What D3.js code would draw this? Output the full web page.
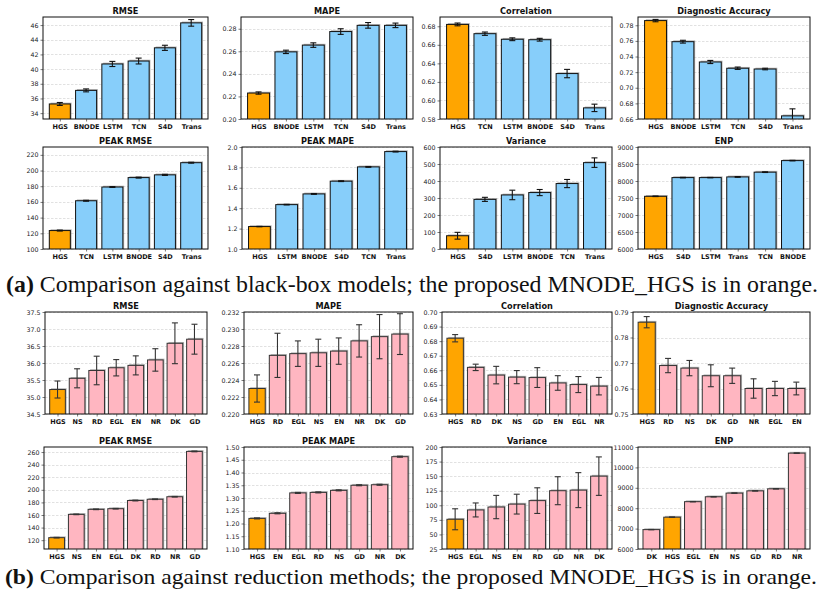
<!DOCTYPE html>
<html>
<head>
<meta charset="utf-8">
<script src="https://cdn.jsdelivr.net/npm/d3@7"></script>
<style>
  body { margin: 0; background: #fff; }
  svg { display: block; }
</style>
</head>
<body>
<svg width="820" height="590"></svg>
<script>
// ---- (a) black-box models ----
var catsA_RMSE = ["HGS", "BNODE", "LSTM", "TCN", "S4D", "Trans"];
var valsA_RMSE = [35.25, 37.1, 40.7, 41.1, 42.9, 46.3];
var errsA_RMSE = [0.2, 0.2, 0.35, 0.4, 0.35, 0.45];
var ticksA_RMSE = [34, 36, 38, 40, 42, 44, 46];

var catsA_MAPE = ["HGS", "BNODE", "LSTM", "TCN", "S4D", "Trans"];
var valsA_MAPE = [0.223, 0.2595, 0.2655, 0.2775, 0.283, 0.283];
var errsA_MAPE = [0.001, 0.0015, 0.002, 0.0025, 0.0025, 0.002];
var ticksA_MAPE = [0.20, 0.22, 0.24, 0.26, 0.28];

var catsA_Corr = ["HGS", "TCN", "LSTM", "BNODE", "S4D", "Trans"];
var valsA_Corr = [0.682, 0.672, 0.666, 0.6655, 0.629, 0.592];
var errsA_Corr = [0.0015, 0.0018, 0.0015, 0.0015, 0.0045, 0.004];
var ticksA_Corr = [0.58, 0.60, 0.62, 0.64, 0.66, 0.68];

var catsA_Acc = ["HGS", "BNODE", "LSTM", "TCN", "S4D", "Trans"];
var valsA_Acc = [0.786, 0.759, 0.733, 0.725, 0.724, 0.664];
var errsA_Acc = [0.0015, 0.0018, 0.002, 0.0015, 0.001, 0.009];
var ticksA_Acc = [0.66, 0.68, 0.70, 0.72, 0.74, 0.76, 0.78];

var catsA_PRMSE = ["HGS", "TCN", "LSTM", "BNODE", "S4D", "Trans"];
var valsA_PRMSE = [123.5, 161.5, 179, 191, 194.5, 210];
var errsA_PRMSE = [0.6, 0.6, 0.5, 0.6, 0.7, 0.6];
var ticksA_PRMSE = [100, 120, 140, 160, 180, 200, 220];

var catsA_PMAPE = ["HGS", "LSTM", "BNODE", "S4D", "TCN", "Trans"];
var valsA_PMAPE = [1.22, 1.435, 1.54, 1.665, 1.805, 1.955];
var errsA_PMAPE = [0.002, 0.003, 0.004, 0.004, 0.004, 0.004];
var ticksA_PMAPE = [1.0, 1.2, 1.4, 1.6, 1.8, 2.0];

var catsA_Var = ["HGS", "S4D", "LSTM", "BNODE", "TCN", "Trans"];
var valsA_Var = [78, 292, 318, 332, 385, 508];
var errsA_Var = [20, 12, 28, 18, 24, 28];
var ticksA_Var = [0, 100, 200, 300, 400, 500, 600];

var catsA_ENP = ["HGS", "S4D", "LSTM", "Trans", "TCN", "BNODE"];
var valsA_ENP = [7550, 8100, 8100, 8120, 8260, 8600];
var errsA_ENP = [8, 8, 6, 10, 10, 8];
var ticksA_ENP = [6000, 6500, 7000, 7500, 8000, 8500, 9000];

// ---- (b) reduction methods ----
var catsB_RMSE = ["HGS", "NS", "RD", "EGL", "EN", "NR", "DK", "GD"];
var valsB_RMSE = [35.22, 35.55, 35.78, 35.86, 35.93, 36.09, 36.58, 36.70];
var errsB_RMSE = [0.25, 0.28, 0.42, 0.24, 0.28, 0.33, 0.6, 0.44];
var ticksB_RMSE = [34.5, 35.0, 35.5, 36.0, 36.5, 37.0, 37.5];

var catsB_MAPE = ["HGS", "RD", "EGL", "NS", "EN", "NR", "DK", "GD"];
var valsB_MAPE = [0.2230, 0.2269, 0.2271, 0.2272, 0.2274, 0.2286, 0.2291, 0.2294];
var errsB_MAPE = [0.0016, 0.0026, 0.0015, 0.0016, 0.00155, 0.0019, 0.0026, 0.0024];
var ticksB_MAPE = [0.220, 0.222, 0.224, 0.226, 0.228, 0.230, 0.232];

var catsB_Corr = ["HGS", "RD", "DK", "NS", "GD", "EN", "EGL", "NR"];
var valsB_Corr = [0.682, 0.662, 0.6567, 0.6553, 0.655, 0.6513, 0.6502, 0.6491];
var errsB_Corr = [0.0025, 0.0022, 0.006, 0.0045, 0.0068, 0.005, 0.0055, 0.006];
var ticksB_Corr = [0.63, 0.64, 0.65, 0.66, 0.67, 0.68, 0.69, 0.70];

var catsB_Acc = ["HGS", "RD", "NS", "DK", "GD", "NR", "EGL", "EN"];
var valsB_Acc = [0.786, 0.769, 0.768, 0.765, 0.765, 0.760, 0.760, 0.760];
var errsB_Acc = [0.0022, 0.0028, 0.003, 0.0043, 0.003, 0.0038, 0.0028, 0.0025];
var ticksB_Acc = [0.75, 0.76, 0.77, 0.78, 0.79];

var catsB_PRMSE = ["HGS", "NS", "EN", "EGL", "DK", "RD", "NR", "GD"];
var valsB_PRMSE = [124, 161, 169, 170, 183, 185, 189, 261];
var errsB_PRMSE = [0.5, 0.5, 0.5, 0.5, 0.6, 0.5, 0.5, 0.6];
var ticksB_PRMSE = [120, 140, 160, 180, 200, 220, 240, 260];

var catsB_PMAPE = ["HGS", "EN", "EGL", "RD", "NS", "GD", "NR", "DK"];
var valsB_PMAPE = [1.22, 1.24, 1.32, 1.322, 1.33, 1.35, 1.352, 1.462];
var errsB_PMAPE = [0.002, 0.002, 0.002, 0.002, 0.002, 0.002, 0.002, 0.002];
var ticksB_PMAPE = [1.10, 1.15, 1.20, 1.25, 1.30, 1.35, 1.40, 1.45, 1.50];

var catsB_Var = ["HGS", "EGL", "NS", "EN", "RD", "GD", "NR", "DK"];
var valsB_Var = [76, 92, 97, 102, 108, 125, 126, 150];
var errsB_Var = [18, 12, 20, 17, 22, 24, 30, 33];
var ticksB_Var = [25, 50, 75, 100, 125, 150, 175, 200];

var catsB_ENP = ["DK", "HGS", "EGL", "EN", "NS", "GD", "RD", "NR"];
var valsB_ENP = [6950, 7560, 8320, 8560, 8740, 8850, 8950, 10700];
var errsB_ENP = [8, 8, 8, 8, 8, 8, 8, 10];
var ticksB_ENP = [6000, 7000, 8000, 9000, 10000, 11000];

var captionA = "Comparison against black-box models; the proposed MNODE_HGS is in orange.";
var captionB = "Comparison against reduction methods; the proposed MNODE_HGS is in orange.";

var svg = d3.select("svg");

// colours per section
var HL = "#FFA500", BLUE = "#87CEFA", PINK = "#FFB6C1";

// panel geometry: rows and columns
var rowsY = [[17, 119], [147, 249], [312, 414], [447, 549]];
var colsX = [
    [[43, 208], [241, 413], [440, 612], [638, 810]],
    [[43, 208], [242, 413], [440, 612], [638, 810]],
    [[45, 207], [244, 413], [442, 612], [633, 810]],
    [[44, 207], [244, 413], [442, 612], [638, 810]]
];

var panels = [
    {title: "RMSE", cats: catsA_RMSE, vals: valsA_RMSE, errs: errsA_RMSE, ticks: ticksA_RMSE, dom: [33.2, 47.1], fmt: "d", color: BLUE},
    {title: "MAPE", cats: catsA_MAPE, vals: valsA_MAPE, errs: errsA_MAPE, ticks: ticksA_MAPE, dom: [0.20, 0.2904], fmt: ".2f", color: BLUE},
    {title: "Correlation", cats: catsA_Corr, vals: valsA_Corr, errs: errsA_Corr, ticks: ticksA_Corr, dom: [0.58, 0.690], fmt: ".2f", color: BLUE},
    {title: "Diagnostic Accuracy", cats: catsA_Acc, vals: valsA_Acc, errs: errsA_Acc, ticks: ticksA_Acc, dom: [0.66, 0.7906], fmt: ".2f", color: BLUE},
    {title: "PEAK RMSE", cats: catsA_PRMSE, vals: valsA_PRMSE, errs: errsA_PRMSE, ticks: ticksA_PRMSE, dom: [100, 230], fmt: "d", color: BLUE},
    {title: "PEAK MAPE", cats: catsA_PMAPE, vals: valsA_PMAPE, errs: errsA_PMAPE, ticks: ticksA_PMAPE, dom: [1.0, 2.0], fmt: ".1f", color: BLUE},
    {title: "Variance", cats: catsA_Var, vals: valsA_Var, errs: errsA_Var, ticks: ticksA_Var, dom: [0, 600], fmt: "d", color: BLUE},
    {title: "ENP", cats: catsA_ENP, vals: valsA_ENP, errs: errsA_ENP, ticks: ticksA_ENP, dom: [6000, 9000], fmt: "d", color: BLUE},
    {title: "RMSE", cats: catsB_RMSE, vals: valsB_RMSE, errs: errsB_RMSE, ticks: ticksB_RMSE, dom: [34.5, 37.5], fmt: ".1f", color: PINK},
    {title: "MAPE", cats: catsB_MAPE, vals: valsB_MAPE, errs: errsB_MAPE, ticks: ticksB_MAPE, dom: [0.220, 0.232], fmt: ".3f", color: PINK},
    {title: "Correlation", cats: catsB_Corr, vals: valsB_Corr, errs: errsB_Corr, ticks: ticksB_Corr, dom: [0.63, 0.70], fmt: ".2f", color: PINK},
    {title: "Diagnostic Accuracy", cats: catsB_Acc, vals: valsB_Acc, errs: errsB_Acc, ticks: ticksB_Acc, dom: [0.75, 0.79], fmt: ".2f", color: PINK},
    {title: "PEAK RMSE", cats: catsB_PRMSE, vals: valsB_PRMSE, errs: errsB_PRMSE, ticks: ticksB_PRMSE, dom: [106, 268], fmt: "d", color: PINK},
    {title: "PEAK MAPE", cats: catsB_PMAPE, vals: valsB_PMAPE, errs: errsB_PMAPE, ticks: ticksB_PMAPE, dom: [1.10, 1.50], fmt: ".2f", color: PINK},
    {title: "Variance", cats: catsB_Var, vals: valsB_Var, errs: errsB_Var, ticks: ticksB_Var, dom: [25, 200], fmt: "d", color: PINK},
    {title: "ENP", cats: catsB_ENP, vals: valsB_ENP, errs: errsB_ENP, ticks: ticksB_ENP, dom: [6000, 11000], fmt: "d", color: PINK}
];

var font = "DejaVu Sans, sans-serif";

panels.forEach(function(p, i) {
    var row = Math.floor(i / 4), col = i % 4;
    var x0 = colsX[row][col][0], x1 = colsX[row][col][1];
    var y0 = rowsY[row][0], y1 = rowsY[row][1];
    var n = p.cats.length;
    var bSec = row >= 2;
    var ink = bSec ? "#333" : "#111";

    var x = d3.scaleLinear().domain([-0.64, n - 1 + 0.64]).range([x0, x1]);
    var y = d3.scaleLinear().domain(p.dom).range([y1, y0]);
    var bw = x(0.8) - x(0);

    var clipId = "clip" + i;
    svg.append("clipPath").attr("id", clipId)
        .append("rect").attr("x", x0).attr("y", y0).attr("width", x1 - x0).attr("height", y1 - y0);

    var g = svg.append("g");

    // dashed grid
    g.selectAll(".grid").data(p.ticks).enter().append("line")
        .attr("x1", x0).attr("x2", x1)
        .attr("y1", function(d) { return Math.round(y(d)) + 0.5; })
        .attr("y2", function(d) { return Math.round(y(d)) + 0.5; })
        .attr("stroke", "#d4d4d4").attr("stroke-width", 0.7)
        .attr("stroke-dasharray", "2.5,1.5");

    var plot = g.append("g").attr("clip-path", "url(#" + clipId + ")");

    // soft shadow behind bars
    plot.selectAll(".shadow").data(p.vals).enter().append("rect")
        .attr("x", function(d, j) { return x(j) - bw / 2 + 1.3; })
        .attr("y", function(d) { return y(d) - 1.3; })
        .attr("width", bw)
        .attr("height", function(d) { return y1 - y(d) + 2; })
        .attr("fill", "#777").attr("opacity", 0.55);

    plot.selectAll(".bar").data(p.vals).enter().append("rect")
        .attr("x", function(d, j) { return x(j) - bw / 2; })
        .attr("y", function(d) { return y(d); })
        .attr("width", bw)
        .attr("height", function(d) { return y1 - y(d) + 2; })
        .attr("fill", function(d, j) { return p.cats[j] === "HGS" ? HL : p.color; })
        .attr("stroke", ink).attr("stroke-width", 1);

    // error bars
    var eb = plot.selectAll(".err").data(p.vals).enter().append("g");
    eb.append("line")
        .attr("x1", function(d, j) { return x(j); })
        .attr("x2", function(d, j) { return x(j); })
        .attr("y1", function(d, j) { return y(d - p.errs[j]); })
        .attr("y2", function(d, j) { return y(d + p.errs[j]); })
        .attr("stroke", ink).attr("stroke-width", 1.1);
    [-1, 1].forEach(function(s) {
        eb.append("line")
            .attr("x1", function(d, j) { return x(j) - 3; })
            .attr("x2", function(d, j) { return x(j) + 3; })
            .attr("y1", function(d, j) { return y(d + s * p.errs[j]); })
            .attr("y2", function(d, j) { return y(d + s * p.errs[j]); })
            .attr("stroke", ink).attr("stroke-width", 1.1);
    });

    // frame
    g.append("rect").attr("x", x0).attr("y", y0)
        .attr("width", x1 - x0).attr("height", y1 - y0)
        .attr("fill", "none").attr("stroke", "#111").attr("stroke-width", 1);

    // y axis
    var yAxis = d3.axisLeft(y).tickValues(p.ticks).tickFormat(d3.format(p.fmt))
        .tickSize(2.5).tickPadding(2);
    var ya = g.append("g").attr("transform", "translate(" + x0 + ",0)").call(yAxis);
    ya.select(".domain").remove();
    ya.selectAll("text").attr("font-family", font).attr("font-size", 6.3).attr("fill", "#222");
    ya.selectAll("line").attr("stroke", "#222").attr("stroke-width", 0.6);

    // x axis
    var xAxis = d3.axisBottom(x).tickValues(d3.range(n))
        .tickFormat(function(d) { return p.cats[d]; }).tickSize(2.5).tickPadding(2.5);
    var xa = g.append("g").attr("transform", "translate(0," + y1 + ")").call(xAxis);
    xa.select(".domain").remove();
    xa.selectAll("text").attr("font-family", font).attr("font-size", 6.5)
        .attr("font-weight", "bold").attr("fill", "#111");
    xa.selectAll("line").attr("stroke", "#222").attr("stroke-width", 0.6);

    // title
    g.append("text").attr("x", (x0 + x1) / 2).attr("y", y0 - 3.5)
        .attr("text-anchor", "middle").attr("font-family", font)
        .attr("font-size", 8.2).attr("font-weight", "bold").attr("fill", "#111")
        .text(p.title);
});

// captions
function caption(label, txt, xPos, yPos, len, size) {
    var t = svg.append("text").attr("x", xPos).attr("y", yPos)
        .attr("text-anchor", "start")
        .attr("font-family", "Liberation Serif, Times New Roman, serif")
        .attr("font-size", size).attr("fill", "#111")
        .attr("textLength", len).attr("lengthAdjust", "spacingAndGlyphs");
    t.append("tspan").attr("font-weight", "bold").text(label + " ");
    t.append("tspan").text(txt);
}
caption("(a)", captionA, 6, 292, 812, 23);
caption("(b)", captionB, 5, 584, 812, 22);
</script>
</body>
</html>
